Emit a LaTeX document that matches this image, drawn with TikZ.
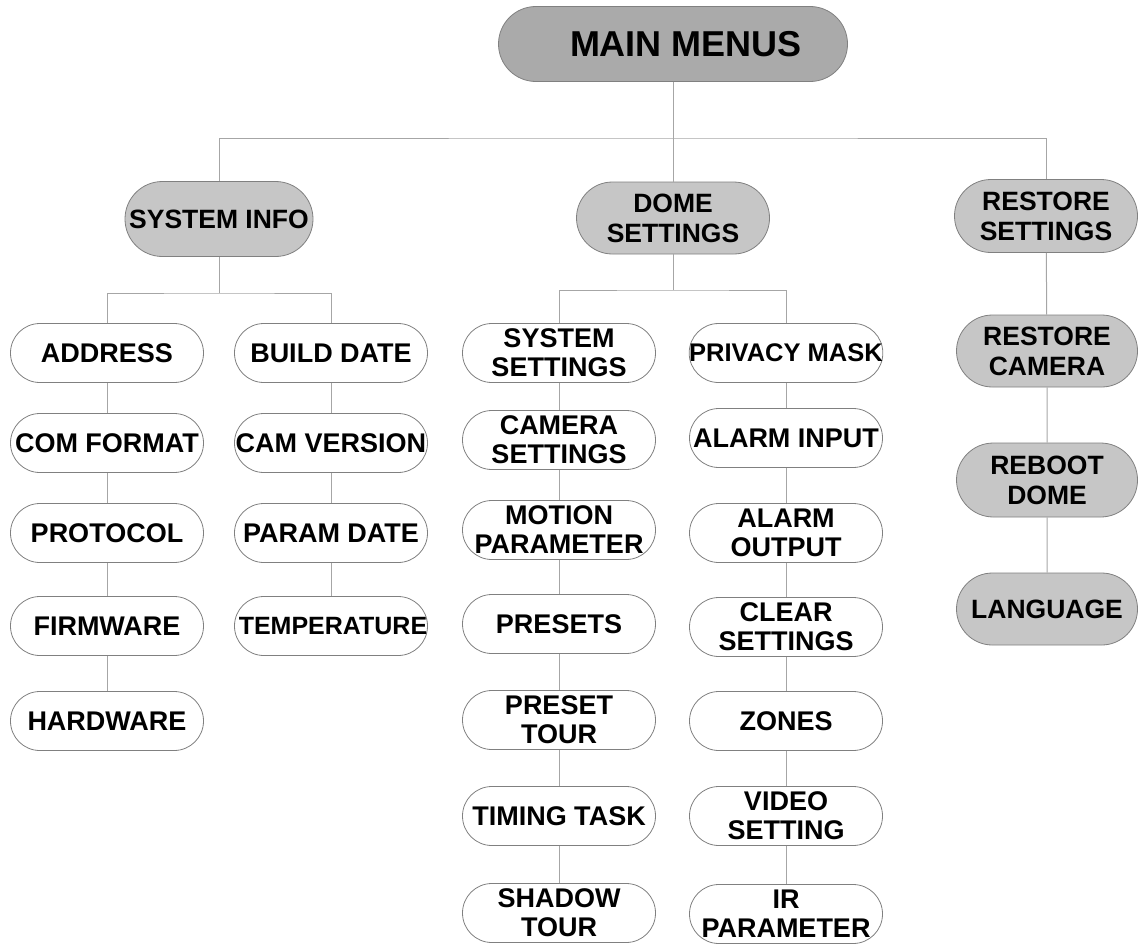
\documentclass[tikz,border=0pt]{standalone}
\usepackage{fontspec}
\setmainfont{Liberation Sans}
\definecolor{darkfill}{HTML}{AAAAAA}
\definecolor{lightfill}{HTML}{C6C6C6}
\definecolor{edgegray}{HTML}{808080}
\definecolor{linegray}{HTML}{A6A6A6}
\begin{document}
\begin{tikzpicture}[x=1pt,y=-1pt,
  pill/.style={draw=edgegray, line width=0.8pt, rectangle, inner sep=0pt, align=center,
    font=\bfseries\fontsize{27}{29}\selectfont, text=black},
  whitebox/.style={pill, fill=white, minimum width=193pt, minimum height=59pt, rounded corners=29.4pt},
  graybox/.style={pill, fill=lightfill, minimum width=183pt, minimum height=73pt, rounded corners=36.4pt,
    font=\bfseries\fontsize{26.5}{30}\selectfont},
  mainbox/.style={pill, fill=darkfill, minimum width=349pt, minimum height=75pt, rounded corners=37.4pt,
    font=\bfseries\fontsize{36}{40}\selectfont},
  conn/.style={draw=linegray, line width=1pt}
]
\useasboundingbox (0,0) rectangle (1138,943);

% top level
\node[mainbox] (main) at (673,44) {\hspace*{26pt}MAIN MENUS};
\node[graybox, minimum width=188pt, minimum height=75pt, rounded corners=37.4pt] (sysinfo) at (219,219) {SYSTEM INFO};
\node[graybox, minimum width=193pt, minimum height=72pt, rounded corners=35.9pt] (dome) at (673,218) {DOME\\SETTINGS};
\node[graybox] (restore) at (1046,216) {RESTORE\\SETTINGS};
\node[graybox, minimum width=181pt, minimum height=72pt, rounded corners=35.9pt] (rcam) at (1047,351) {RESTORE\\CAMERA};
\node[graybox, minimum width=181pt, minimum height=74pt, rounded corners=36.9pt] (reboot) at (1047,480) {REBOOT\\DOME};
\node[graybox, minimum width=181pt, minimum height=72pt, rounded corners=35.9pt] (lang) at (1047,609) {LANGUAGE};

% system info children
\node[whitebox] (address) at (107,353) {ADDRESS};
\node[whitebox] (comformat) at (107,443) {COM FORMAT};
\node[whitebox] (protocol) at (107,533) {PROTOCOL};
\node[whitebox] (firmware) at (107,626) {FIRMWARE};
\node[whitebox] (hardware) at (107,721) {HARDWARE};
\node[whitebox] (build) at (331,353) {BUILD DATE};
\node[whitebox] (camver) at (331,443) {CAM VERSION};
\node[whitebox] (param) at (331,533) {PARAM DATE};
\node[whitebox, font=\bfseries\fontsize{25}{29}\selectfont] (temp) at (331,626) {\hspace*{4pt}TEMPERATURE};

% dome settings children
\node[whitebox] (syss) at (559,353) {SYSTEM\\SETTINGS};
\node[whitebox] (cams) at (559,440) {CAMERA\\SETTINGS};
\node[whitebox] (motion) at (559,530) {MOTION\\PARAMETER};
\node[whitebox] (presets) at (559,624) {PRESETS};
\node[whitebox] (ptour) at (559,720) {PRESET\\TOUR};
\node[whitebox] (timing) at (559,816) {TIMING TASK};
\node[whitebox] (shadow) at (559,913) {SHADOW\\TOUR};
\node[whitebox, font=\bfseries\fontsize{25.5}{29}\selectfont] (privacy) at (786,353) {PRIVACY MASK};
\node[whitebox] (ain) at (786,438) {ALARM INPUT};
\node[whitebox] (aout) at (786,533) {ALARM\\OUTPUT};
\node[whitebox] (clear) at (786,627) {CLEAR\\SETTINGS};
\node[whitebox] (zones) at (786,721) {ZONES};
\node[whitebox] (video) at (786,816) {VIDEO\\SETTING};
\node[whitebox] (ir) at (786,914) {IR\\PARAMETER};

% buses
\coordinate (busTop) at (673,138);
\coordinate (busL) at (219,293);
\coordinate (busM) at (673,290);

\draw[conn] (main.south) -- (busTop);
\draw[conn] (sysinfo.north) |- (busTop) -| (restore.north);
\draw[conn] (busTop) -- (dome.north);

\draw[conn] (sysinfo.south) -- (busL);
\draw[conn] (address.north) |- (busL) -| (build.north);

\draw[conn] (dome.south) -- (busM);
\draw[conn] (syss.north) |- (busM) -| (privacy.north);

% column chains
\draw[conn] (address) -- (comformat) (comformat) -- (protocol) (protocol) -- (firmware) (firmware) -- (hardware);
\draw[conn] (build) -- (camver) (camver) -- (param) (param) -- (temp);
\draw[conn] (syss) -- (cams) (cams) -- (motion) (motion) -- (presets) (presets) -- (ptour) (ptour) -- (timing) (timing) -- (shadow);
\draw[conn] (privacy) -- (ain) (ain) -- (aout) (aout) -- (clear) (clear) -- (zones) (zones) -- (video) (video) -- (ir);
\draw[conn] (restore) -- (rcam) (rcam) -- (reboot) (reboot) -- (lang);
\end{tikzpicture}
\end{document}
